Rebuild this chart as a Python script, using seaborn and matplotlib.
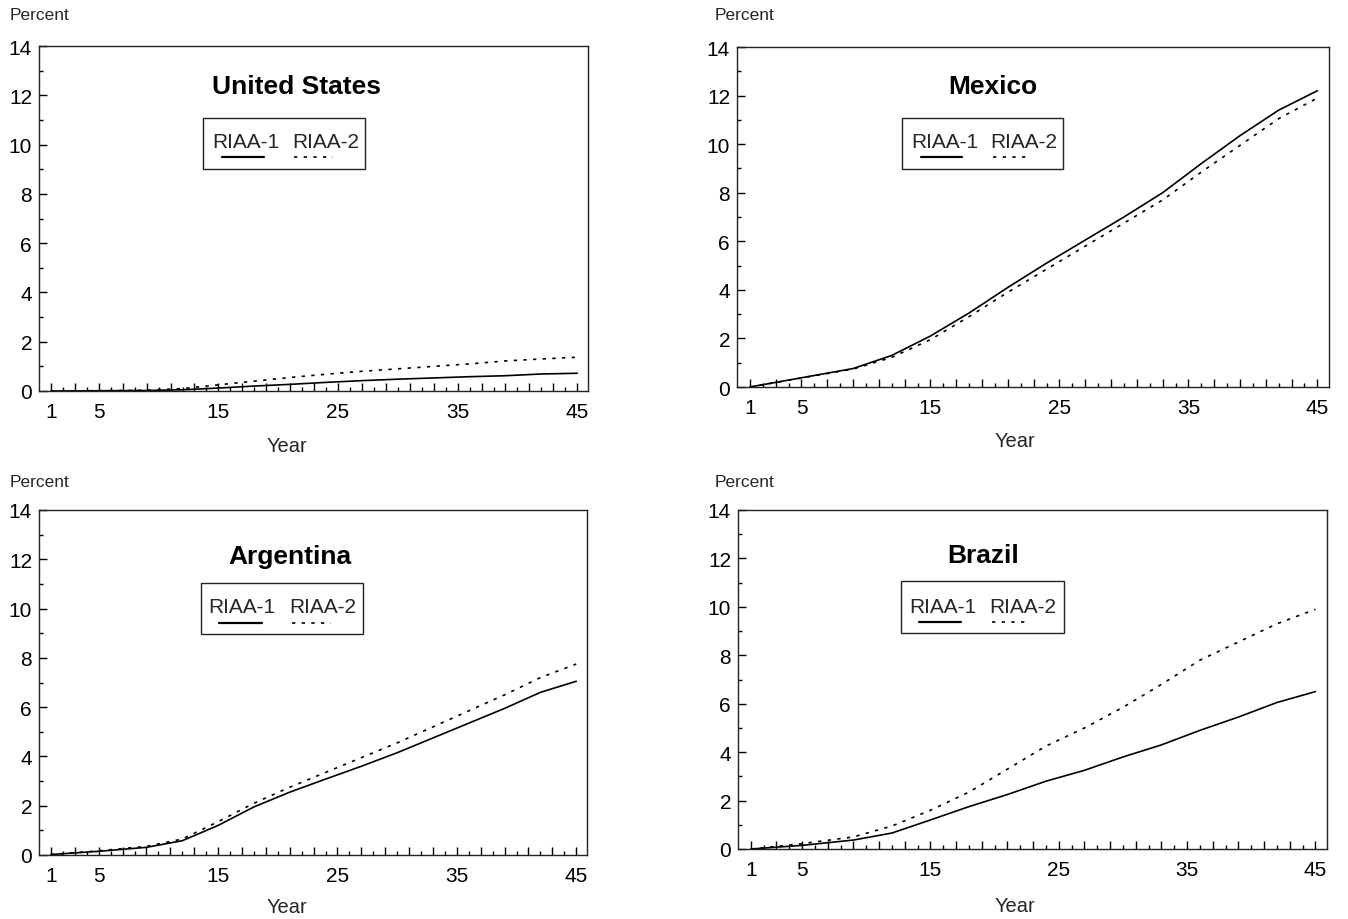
import numpy as np
import pandas as pd
import matplotlib
matplotlib.use("Agg")
import matplotlib.pyplot as plt
import seaborn as sns
from matplotlib.lines import Line2D
from matplotlib.patches import Rectangle

# ---------------- data ----------------
countries = ["United States", "Mexico", "Argentina", "Brazil"]
series_names = ["RIAA-1", "RIAA-2"]
years = [1, 5, 9, 12, 15, 18, 21, 24, 27, 30, 33, 36, 39, 42, 45]

us_riaa1 = [0, 0.01, 0.02, 0.05, 0.12, 0.20, 0.27, 0.35, 0.42, 0.48, 0.53, 0.58, 0.62, 0.69, 0.72]
us_riaa2 = [0, 0.01, 0.03, 0.10, 0.25, 0.40, 0.55, 0.68, 0.80, 0.90, 1.00, 1.10, 1.22, 1.30, 1.37]
mx_riaa1 = [0, 0.38, 0.76, 1.30, 2.10, 3.05, 4.10, 5.10, 6.05, 7.00, 8.00, 9.20, 10.35, 11.40, 12.20]
mx_riaa2 = [0, 0.37, 0.74, 1.22, 1.95, 2.90, 3.90, 4.85, 5.80, 6.75, 7.70, 8.85, 9.95, 11.05, 11.90]
ar_riaa1 = [0.02, 0.15, 0.31, 0.58, 1.20, 1.95, 2.55, 3.08, 3.60, 4.15, 4.75, 5.35, 5.95, 6.60, 7.05]
ar_riaa2 = [0.02, 0.17, 0.35, 0.65, 1.35, 2.10, 2.75, 3.35, 3.95, 4.55, 5.20, 5.85, 6.50, 7.20, 7.75]
br_riaa1 = [0, 0.15, 0.37, 0.66, 1.20, 1.75, 2.25, 2.80, 3.25, 3.80, 4.30, 4.90, 5.45, 6.05, 6.50]
br_riaa2 = [0, 0.22, 0.50, 0.95, 1.60, 2.35, 3.30, 4.25, 5.00, 5.85, 6.80, 7.80, 8.55, 9.30, 9.90]

values = {
    "United States": (us_riaa1, us_riaa2),
    "Mexico": (mx_riaa1, mx_riaa2),
    "Argentina": (ar_riaa1, ar_riaa2),
    "Brazil": (br_riaa1, br_riaa2),
}

xtick_major = list(range(1, 46, 2))
xtick_minor = list(range(2, 46, 2))
xtick_labelled = ["1", "5", "15", "25", "35", "45"]
ytick_major = list(range(0, 15, 2))
ytick_minor = list(range(1, 15, 2))
ylabel_text = "Percent"
xlabel_text = "Year"

# ---------------- style ----------------
sns.set_style("white")
plt.rcParams["font.family"] = ["Liberation Sans", "DejaVu Sans"]

W, H = 1348, 920
fig = plt.figure(figsize=(W / 100, H / 100), dpi=100)

# axes boxes in pixels: left, right, top, bottom
boxes = {
    "United States": (39, 588, 47, 392),
    "Mexico": (737, 1329, 48, 388),
    "Argentina": (39, 587, 511, 856),
    "Brazil": (738, 1327, 511, 850),
}
title_pos = {
    "United States": (0.469, 0.884),
    "Mexico": (0.432, 0.885),
    "Argentina": (0.458, 0.866),
    "Brazil": (0.416, 0.866),
}
# legend layout (axes fraction): box x0,x1,ytop,ybot, text y, handle y, text x1,x2, solid x, dotted x
leg_pos = {
    "United States": (0.299, 0.594, 0.790, 0.643, 0.724, 0.679, 0.377, 0.523, (0.333, 0.410), (0.464, 0.536)),
    "Mexico": (0.278, 0.551, 0.790, 0.641, 0.723, 0.677, 0.351, 0.484, (0.310, 0.380), (0.433, 0.496)),
    "Argentina": (0.296, 0.592, 0.789, 0.640, 0.720, 0.672, 0.371, 0.517, (0.329, 0.407), (0.462, 0.533)),
    "Brazil": (0.277, 0.553, 0.790, 0.637, 0.716, 0.670, 0.348, 0.484, (0.307, 0.379), (0.432, 0.496)),
}
percent_pos = {"United States": (10, 15), "Mexico": (715, 15), "Argentina": (10, 483), "Brazil": (715, 483)}
year_pos = {"United States": (287, 447), "Mexico": (1015, 442), "Argentina": (287, 908), "Brazil": (1015, 907)}

dash_pattern = (2, 3.8)
LW = 1.2

for c in countries:
    l, r, t, b = boxes[c]
    ax = fig.add_axes([l / W, 1 - b / H, (r - l) / W, (b - t) / H])
    r1, r2 = values[c]
    df = pd.DataFrame({
        "Year": years * 2,
        "Percent": list(r1) + list(r2),
        "Series": [series_names[0]] * len(years) + [series_names[1]] * len(years),
    })
    sns.lineplot(data=df, x="Year", y="Percent", style="Series",
                 dashes={series_names[0]: "", series_names[1]: dash_pattern},
                 color="black", linewidth=LW, legend=False, ax=ax)
    ax.set_xlim(0, 45.9)
    ax.set_ylim(0, 14)
    ax.set_xlabel("")
    ax.set_ylabel("")

    ax.set_xticks(xtick_major)
    ax.set_xticklabels([str(v) if str(v) in xtick_labelled else "" for v in xtick_major])
    ax.set_xticks(xtick_minor, minor=True)
    ax.set_yticks(ytick_major)
    ax.set_yticklabels([str(v) for v in ytick_major])
    ax.set_yticks(ytick_minor, minor=True)
    ax.tick_params(axis="x", which="both", bottom=True, top=False)
    ax.tick_params(axis="y", which="both", left=True, right=False)
    ax.tick_params(axis="x", which="major", direction="in", length=6, width=1,
                   pad=8, labelsize=15, colors="black")
    ax.tick_params(axis="x", which="minor", direction="in", length=3, width=1, colors="black")
    ax.tick_params(axis="y", which="major", direction="in", length=6, width=1,
                   pad=5, labelsize=15, colors="black")
    ax.tick_params(axis="y", which="minor", direction="in", length=3, width=1, colors="black")
    for s in ax.spines.values():
        s.set_visible(True)
        s.set_color("#222222")
        s.set_linewidth(1.0)

    tx, ty = title_pos[c]
    ax.text(tx, ty, c, transform=ax.transAxes, ha="center", va="center",
            fontsize=19, fontweight="bold", color="black")

    bx0, bx1, byt, byb, tyt, hy, t1x, t2x, sx, dx = leg_pos[c]
    ax.add_patch(Rectangle((bx0, byb), bx1 - bx0, byt - byb, transform=ax.transAxes,
                           fill=True, facecolor="white", edgecolor="#222222", lw=1.0, zorder=5))
    ax.text(t1x, tyt, series_names[0], transform=ax.transAxes, ha="center", va="center",
            fontsize=15, zorder=6)
    ax.text(t2x, tyt, series_names[1], transform=ax.transAxes, ha="center", va="center",
            fontsize=15, zorder=6)
    ax.add_line(Line2D(list(sx), [hy, hy], transform=ax.transAxes, color="black",
                       lw=1.6, zorder=6))
    ax.add_line(Line2D(list(dx), [hy, hy], transform=ax.transAxes, color="black",
                       lw=LW, dashes=dash_pattern, zorder=6))

    px, py = percent_pos[c]
    fig.text(px / W, 1 - py / H, ylabel_text, ha="left", va="center", fontsize=12.5)
    yx, yy = year_pos[c]
    fig.text(yx / W, 1 - yy / H, xlabel_text, ha="center", va="center", fontsize=14.5)

fig.savefig("out.png", dpi=100, facecolor="white")
